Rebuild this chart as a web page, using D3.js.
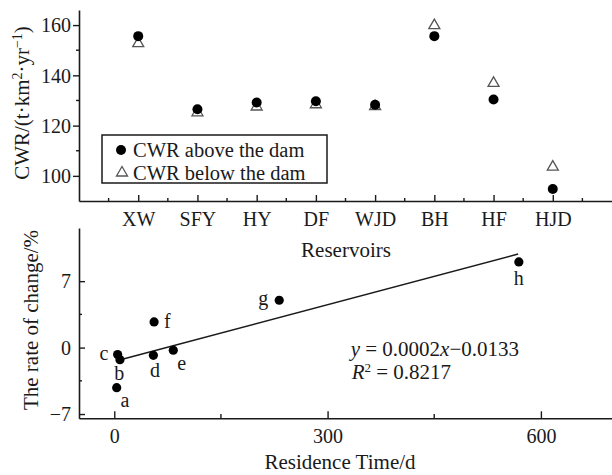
<!DOCTYPE html>
<html>
<head>
<meta charset="utf-8">
<script src="https://cdn.jsdelivr.net/npm/d3@7"></script>
<style>
  body { margin: 0; background: #fff; }
  svg { display: block; font-family: "Liberation Serif", "Times New Roman", serif; }
</style>
</head>
<body>
<div id="chart"></div>
<script>
// top panel: CWR per reservoir
const reservoirs = ["XW", "SFY", "HY", "DF", "WJD", "BH", "HF", "HJD"];
const cwrAbove = [155.6, 126.5, 129.2, 129.7, 128.3, 155.6, 130.4, 94.8];
const cwrBelow = [153.0, 125.5, 127.8, 128.7, 128.0, 160.2, 137.2, 103.9];
const topTicks = [100, 120, 140, 160];
const topMinor = [110, 130, 150];

// bottom panel: rate of change vs residence time
const pointLabels = ["a", "b", "c", "d", "e", "f", "g", "h"];
const residence = [3.4, 8, 4.7, 55, 83, 56, 232, 569];
const changeRate = [-4.22, -1.27, -0.74, -0.81, -0.28, 2.7, 4.99, 9.03];
const fitX = [10, 568];
const fitY = [-1.25, 9.85];
const botXTicks = [0, 300, 600];
const botXMinor = [150, 450];
const botYTicks = [-7, 0, 7];
const botYMinor = [-3.5, 3.5];

const W = 612, H = 475;
const svg = d3.select("#chart").append("svg")
	.attr("width", W)
	.attr("height", H);

const ink = "#1a1a1a";
const serif = '"Liberation Serif", "Times New Roman", serif';
const axisX = 79;

let styleAxis = (g, size) => g
	.attr("font-family", serif)
	.call(g => g.select(".domain").attr("stroke", ink).attr("stroke-width", 1.6))
	.call(g => g.selectAll(".tick line").attr("stroke", ink).attr("stroke-width", 1.4))
	.call(g => g.selectAll(".tick text").attr("fill", ink).style("font-size", size + "px"));

// ---------- top panel ----------
let xTop = d3.scalePoint().domain(reservoirs).range([axisX, W]).padding(1);
let yTop = d3.scaleLinear().domain([90, 166]).range([201, 10]);

let gTop = svg.append("g");

// y axis (ticks outward)
gTop.append("g")
	.attr("transform", `translate(${axisX},0)`)
	.call(d3.axisLeft(yTop).tickValues(topTicks).tickSize(6).tickPadding(2).tickSizeOuter(0))
	.call(g => styleAxis(g, 20))
	.call(g => g.selectAll(".tick text").attr("dy", "0.34em"));
gTop.selectAll(".minorY").data(topMinor).enter().append("line")
	.attr("x1", axisX - 3).attr("x2", axisX)
	.attr("y1", d => yTop(d)).attr("y2", d => yTop(d))
	.attr("stroke", ink).attr("stroke-width", 1.4);

// x axis (ticks inward)
gTop.append("g")
	.attr("transform", `translate(0,201)`)
	.call(d3.axisBottom(xTop).tickSize(-6).tickPadding(11).tickSizeOuter(0))
	.call(g => styleAxis(g, 20));
let step = xTop.step();
let topMinorX = reservoirs.map(r => xTop(r) - step / 2).concat([xTop(reservoirs[reservoirs.length - 1]) + step / 2]);
gTop.selectAll(".minorX").data(topMinorX).enter().append("line")
	.attr("x1", d => d).attr("x2", d => d)
	.attr("y1", 201).attr("y2", 198)
	.attr("stroke", ink).attr("stroke-width", 1.4);

// triangles below dam
const tri = "M0,-5.5L5.5,4L-5.5,4Z";
gTop.selectAll(".below").data(reservoirs).enter().append("path")
	.attr("d", tri)
	.attr("transform", (d, i) => `translate(${xTop(d)},${yTop(cwrBelow[i])})`)
	.attr("fill", "#fff")
	.attr("stroke", "#555")
	.attr("stroke-width", 1.3);
// circles above dam
gTop.selectAll(".above").data(reservoirs).enter().append("circle")
	.attr("cx", d => xTop(d))
	.attr("cy", (d, i) => yTop(cwrAbove[i]))
	.attr("r", 5)
	.attr("fill", "#000");

// legend
let legend = gTop.append("g");
legend.append("rect")
	.attr("x", 102).attr("y", 135).attr("width", 225).attr("height", 48)
	.attr("fill", "#fff").attr("stroke", ink).attr("stroke-width", 1.5);
legend.append("circle").attr("cx", 121).attr("cy", 150).attr("r", 5).attr("fill", "#000");
legend.append("path").attr("d", tri)
	.attr("transform", "translate(122,172)")
	.attr("fill", "#fff").attr("stroke", "#555").attr("stroke-width", 1.3);
legend.append("text").attr("x", 133).attr("y", 150).attr("dy", "0.34em")
	.style("font-size", "20.5px").attr("fill", ink).text("CWR above the dam");
legend.append("text").attr("x", 133).attr("y", 173).attr("dy", "0.34em")
	.style("font-size", "20.5px").attr("fill", ink).text("CWR below the dam");

// y title
let yTitle = svg.append("text")
	.attr("transform", "translate(28.5,103) rotate(-90)")
	.attr("text-anchor", "middle")
	.style("font-size", "21px")
	.attr("fill", ink);
yTitle.append("tspan").text("CWR/(t·km");
yTitle.append("tspan").attr("baseline-shift", "super").style("font-size", "14px").text("2");
yTitle.append("tspan").text("·yr");
yTitle.append("tspan").attr("baseline-shift", "super").style("font-size", "14px").text("−1");
yTitle.append("tspan").text(")");

svg.append("text")
	.attr("x", 346).attr("y", 250).attr("dy", "0.34em")
	.attr("text-anchor", "middle")
	.style("font-size", "21px").attr("fill", ink)
	.text("Reservoirs");

// ---------- bottom panel ----------
let xBot = d3.scaleLinear().domain([-49.6, 700]).range([axisX, W]);
let yBot = d3.scaleLinear().domain([-7.45, 12.6]).range([418.3, 228]);
let gBot = svg.append("g");

gBot.append("g")
	.attr("transform", `translate(${axisX},0)`)
	.call(d3.axisLeft(yBot).tickValues(botYTicks).tickSize(-6).tickPadding(8).tickSizeOuter(0)
		.tickFormat(d => d < 0 ? "−" + Math.abs(d) : d))
	.call(g => styleAxis(g, 20))
	.call(g => g.selectAll(".tick text").attr("dy", "0.34em"));
gBot.selectAll(".minorY").data(botYMinor).enter().append("line")
	.attr("x1", axisX).attr("x2", axisX + 3)
	.attr("y1", d => yBot(d)).attr("y2", d => yBot(d))
	.attr("stroke", ink).attr("stroke-width", 1.4);

gBot.append("g")
	.attr("transform", `translate(0,418.3)`)
	.call(d3.axisBottom(xBot).tickValues(botXTicks).tickSize(-7).tickPadding(11).tickSizeOuter(0))
	.call(g => styleAxis(g, 20));
gBot.selectAll(".minorX").data(botXMinor).enter().append("line")
	.attr("x1", d => xBot(d)).attr("x2", d => xBot(d))
	.attr("y1", 418.3).attr("y2", 414)
	.attr("stroke", ink).attr("stroke-width", 1.4);

// fit line
gBot.append("line")
	.attr("x1", xBot(fitX[0])).attr("y1", yBot(fitY[0]))
	.attr("x2", xBot(fitX[1])).attr("y2", yBot(fitY[1]))
	.attr("stroke", ink).attr("stroke-width", 1.6);

gBot.selectAll(".pt").data(pointLabels).enter().append("circle")
	.attr("cx", (d, i) => xBot(residence[i]))
	.attr("cy", (d, i) => yBot(changeRate[i]))
	.attr("r", 4.6)
	.attr("fill", "#000");

// label offsets from each point
const labelOffset = {
	a: [8.3, 13.4], b: [-0.7, 14.7], c: [-13.7, -1], d: [1.7, 15.7],
	e: [8.4, 13.3], f: [13.3, 0], g: [-16, -1.7], h: [0, 17.6]
};
gBot.selectAll(".lbl").data(pointLabels).enter().append("text")
	.attr("x", (d, i) => xBot(residence[i]) + labelOffset[d][0])
	.attr("y", (d, i) => yBot(changeRate[i]) + labelOffset[d][1])
	.attr("dy", "0.3em")
	.attr("text-anchor", "middle")
	.style("font-size", "20px").attr("fill", ink)
	.text(d => d);

// equation
let eq = svg.append("text").attr("x", 350.7).attr("y", 356)
	.style("font-size", "21px").attr("fill", ink);
eq.append("tspan").style("font-style", "italic").text("y");
eq.append("tspan").text(" = 0.0002");
eq.append("tspan").style("font-style", "italic").text("x");
eq.append("tspan").text("−0.0133");
let r2 = svg.append("text").attr("x", 351.7).attr("y", 379)
	.style("font-size", "21px").attr("fill", ink);
r2.append("tspan").style("font-style", "italic").text("R");
r2.append("tspan").attr("baseline-shift", "super").style("font-size", "13px").text("2");
r2.append("tspan").text(" = 0.8217");

svg.append("text")
	.attr("transform", "translate(38,320) rotate(-90)")
	.attr("text-anchor", "middle")
	.style("font-size", "21px").attr("fill", ink)
	.text("The rate of change/%");

svg.append("text")
	.attr("x", 340).attr("y", 462).attr("dy", "0.34em")
	.attr("text-anchor", "middle")
	.style("font-size", "21px").attr("fill", ink)
	.text("Residence Time/d");
</script>
</body>
</html>
